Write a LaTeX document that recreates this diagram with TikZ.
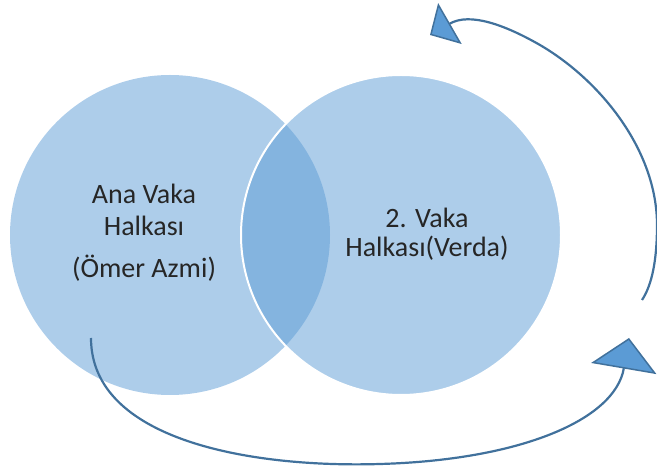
\documentclass[tikz,border=0pt]{standalone}
\usepackage{fontspec}
\setmainfont{Carlito}
\usepackage{xcolor}
\usepackage{tikz}
\usetikzlibrary{arrows.meta,positioning}
\definecolor{vennblue}{HTML}{5B9BD5}
\definecolor{arcblue}{HTML}{41719C}
\definecolor{textgray}{HTML}{262626}
\tikzstyle{venn} = [circle, minimum size=320pt, inner sep=0pt, fill=vennblue, fill opacity=0.5]
\tikzstyle{label} = [align=center, inner sep=0pt, text=textgray, font=\fontsize{28}{32}\selectfont]
\tikzstyle{cycle} = [arcblue, line width=2.2pt, line join=miter]

\begin{document}
\begin{tikzpicture}[x=1pt, y=-1pt]
\useasboundingbox (0,0) rectangle (657,470);
\node[venn] (anacircle) at (170,235) {};
\node[venn, draw=white, draw opacity=1, line width=2pt] (verdacircle) at (401,235) {};
\node[label] (analabel) at (144,233) {Ana Vaka\\Halkası\\[10pt](Ömer Azmi)};
\node[label, font=\fontsize{28}{29}\selectfont] (verdalabel) at (427,234) {2. Vaka\\Halkası(Verda)};
\coordinate (lowstart) at (91,338);
\coordinate (lowmid) at (380,464);
\coordinate (lowend) at (629,338);
\coordinate (highstart) at (642,300);
\coordinate (highside) at (657,225);
\coordinate (highmid) at (540,45);
\coordinate (highend) at (430,35);
\draw[cycle, -{Triangle[length=31pt, width=66pt, fill=vennblue, line width=1.5pt]}]
  (lowstart) .. controls (91,440) and (250,468) .. (lowmid)
  .. controls (520,460) and (615,420) .. (lowend);
\draw[cycle, -{Triangle[length=23pt, width=47pt, fill=vennblue, line width=1.5pt]}]
  (highstart) .. controls (652,285) and (657,260) .. (highside)
  .. controls (657,150) and (600,80) .. (highmid)
  .. controls (505,25) and (470,12) .. (highend);
\end{tikzpicture}
\end{document}
